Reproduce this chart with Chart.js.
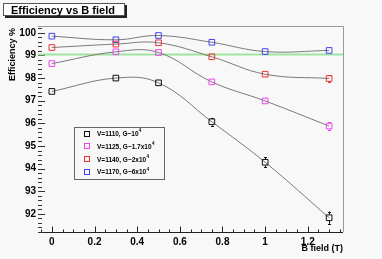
<!DOCTYPE html>
<html>
<head>
<meta charset="UTF-8">
<title>Efficiency vs B field</title>
<script src="https://cdn.jsdelivr.net/npm/chart.js@4/dist/chart.umd.min.js"></script>
<style>
  html, body { margin: 0; padding: 0; background: #f8f8f8; }
  canvas { display: block; }
</style>
</head>
<body>
<canvas id="canvas" width="382" height="259"></canvas>
<script>
// B field values (T)
const bField = [0, 0.3, 0.5, 0.75, 1, 1.3];

// efficiency (%) per HV setting
const eff1110 = [97.41, 98.00, 97.79, 96.07, 94.28, 91.83];
const eff1125 = [98.64, 99.16, 99.13, 97.83, 96.99, 95.88];
const eff1140 = [99.35, 99.50, 99.56, 98.94, 98.17, 97.98];
const eff1170 = [99.85, 99.69, 99.88, 99.58, 99.17, 99.22];

// errors
const err1110 = [0.05, 0.05, 0.05, 0.17, 0.22, 0.27];
const err1125 = [0.04, 0.04, 0.04, 0.06, 0.08, 0.16];
const err1140 = [0.03, 0.03, 0.03, 0.05, 0.06, 0.15];
const err1170 = [0.02, 0.02, 0.02, 0.03, 0.04, 0.05];

const seriesNames = ['V=1110, G~10', 'V=1125, G~1.7x10', 'V=1140, G~2x10', 'V=1170, G~6x10'];
const seriesExp = ['4', '4', '4', '4'];
const seriesColors = ['#111111', '#ee44ee', '#ee3333', '#4444ee'];

const greenLevel = 99.04;

const xTicks = [0, 0.2, 0.4, 0.6, 0.8, 1, 1.2];
const yTicks = [92, 93, 94, 95, 96, 97, 98, 99, 100];
const xMin = -0.065, xMax = 1.365;
const yMin = 91.2, yMax = 100.3;

const FONT = '"Liberation Sans", Arial, sans-serif';

function pts(vals) {
  return bField.map(function (b, i) { return { x: b, y: vals[i] }; });
}

const values = [eff1110, eff1125, eff1140, eff1170];
const errors = [err1110, err1125, err1140, err1170];

const datasets = [];
values.forEach(function (v, i) {
  datasets.push({
    label: seriesNames[i] + seriesExp[i],
    data: pts(v),
    errors: errors[i],
    borderColor: '#7a7a7a',
    borderWidth: 1,
    tension: 0.4,
    pointStyle: 'rect',
    pointRadius: 4,
    pointBorderWidth: 1,
    pointBorderColor: seriesColors[i],
    pointBackgroundColor: 'rgba(0,0,0,0)',
    order: 1
  });
});
datasets.push({
  label: 'level',
  data: [{ x: xMin, y: greenLevel }, { x: xMax, y: greenLevel }],
  borderColor: '#9ee39e',
  borderWidth: 2,
  pointRadius: 0,
  order: 2
});

const bgPlugin = {
  id: 'bg',
  beforeDraw(chart) {
    const c = chart.ctx;
    c.save();
    c.fillStyle = '#f8f8f8';
    c.fillRect(0, 0, chart.width, chart.height);
    c.restore();
  },
  beforeDatasetsDraw(chart) {
    const c = chart.ctx, a = chart.chartArea, x = chart.scales.x, y = chart.scales.y;
    c.save();
    c.lineWidth = 1;
    // frame
    c.strokeStyle = '#9a9a9a';
    c.beginPath();
    c.moveTo(a.left, Math.round(a.top) + 0.5);
    c.lineTo(Math.round(a.right) + 0.5, Math.round(a.top) + 0.5);
    c.lineTo(Math.round(a.right) + 0.5, a.bottom);
    c.stroke();
    // x axis
    c.strokeStyle = '#222';
    c.beginPath();
    const yb = Math.round(a.bottom) + 0.5;
    c.moveTo(a.left, yb);
    c.lineTo(a.right, yb);
    for (let i = -1; i <= 27; i++) {
      const v = i * 0.05;
      const px = Math.round(x.getPixelForValue(v)) + 0.5;
      const major = (i % 4 === 0);
      c.moveTo(px, yb);
      c.lineTo(px, yb - (major ? 6 : 3));
    }
    c.stroke();
    // y ticks
    c.strokeStyle = '#333';
    c.beginPath();
    for (let i = 0; i <= 45; i++) {
      const v = yMin + i * 0.2;
      if (v > yMax) break;
      const py = Math.round(y.getPixelForValue(v)) + 0.5;
      const major = Math.abs(v - Math.round(v)) < 1e-6;
      c.moveTo(a.left, py);
      c.lineTo(a.left + (major ? 7 : 4), py);
    }
    c.stroke();
    c.restore();
  },
  afterDatasetsDraw(chart) {
    const c = chart.ctx, x = chart.scales.x, y = chart.scales.y;
    c.save();
    c.lineWidth = 1;
    chart.data.datasets.forEach(function (ds, di) {
      if (!ds.errors) return;
      c.strokeStyle = seriesColors[di];
      ds.data.forEach(function (p, k) {
        const e = ds.errors[k];
        const px = Math.round(x.getPixelForValue(p.x)) + 0.5;
        const cy = y.getPixelForValue(p.y);
        const top = y.getPixelForValue(p.y + e);
        const bot = y.getPixelForValue(p.y - e);
        if (cy - top < 3.2) return;
        c.beginPath();
        c.moveTo(px, top); c.lineTo(px, cy - 3);
        c.moveTo(px, cy + 3); c.lineTo(px, bot);
        c.moveTo(px - 1.5, Math.round(top) + 0.5); c.lineTo(px + 1.5, Math.round(top) + 0.5);
        c.moveTo(px - 1.5, Math.round(bot) + 0.5); c.lineTo(px + 1.5, Math.round(bot) + 0.5);
        c.stroke();
      });
    });
    c.restore();
  },
  afterDraw(chart) {
    const c = chart.ctx, a = chart.chartArea;
    c.save();
    // title box with shadow
    c.fillStyle = '#222';
    c.fillRect(5, 5, 122, 13);
    c.fillStyle = '#fff';
    c.fillRect(3, 3, 122, 13);
    c.strokeStyle = '#555';
    c.strokeRect(3.5, 3.5, 121, 12);
    c.fillStyle = '#000';
    c.font = 'bold 11px ' + FONT;
    c.textBaseline = 'alphabetic';
    c.textAlign = 'left';
    c.fillText('Efficiency vs B field', 11, 13.5);

    // axis titles
    c.font = 'bold 9px ' + FONT;
    c.textAlign = 'right';
    c.fillText('B field (T)', a.right, 251);
    c.save();
    c.translate(15, a.top + 2);
    c.rotate(-Math.PI / 2);
    c.fillText('Efficiency %', 0, 0);
    c.restore();

    // legend
    c.fillStyle = '#f8f8f8';
    c.fillRect(74, 127, 90, 52);
    c.strokeStyle = '#666';
    c.strokeRect(74.5, 127.5, 90, 52);
    c.textAlign = 'left';
    c.textBaseline = 'middle';
    seriesNames.forEach(function (name, i) {
      const ry = 133.5 + i * 12.9;
      c.strokeStyle = seriesColors[i];
      c.strokeRect(84.5, Math.round(ry) - 2.5, 5, 5);
      c.fillStyle = '#000';
      c.font = 'bold 6.5px ' + FONT;
      c.fillText(name, 97, ry + 0.5);
      const w = c.measureText(name).width;
      c.font = 'bold 4.5px ' + FONT;
      c.fillText(seriesExp[i], 97 + w + 0.3, ry - 2.5);
    });
    c.restore();
  }
};

const ctx = document.getElementById('canvas').getContext('2d');
const chart = new Chart(ctx, {
  type: 'line',
  data: { datasets: datasets },
  options: {
    responsive: false,
    animation: false,
    devicePixelRatio: 1,
    layout: { padding: { left: 0, top: 26, right: 39, bottom: 0 } },
    plugins: {
      legend: { display: false },
      tooltip: { enabled: false },
      title: { display: false }
    },
    scales: {
      x: {
        type: 'linear',
        min: xMin,
        max: xMax,
        grid: { display: false, drawTicks: false },
        border: { display: false },
        afterBuildTicks: function (s) { s.ticks = xTicks.map(function (v) { return { value: v }; }); },
        afterFit: function (s) { s.height = 27; },
        ticks: {
          padding: 4,
          maxRotation: 0,
          color: '#000',
          font: { family: FONT, size: 10, weight: 'bold' },
          callback: function (v) { return String(Math.round(v * 10) / 10); }
        }
      },
      y: {
        type: 'linear',
        min: yMin,
        max: yMax,
        grid: { display: false, drawTicks: false },
        border: { display: false },
        afterBuildTicks: function (s) { s.ticks = yTicks.map(function (v) { return { value: v }; }); },
        afterFit: function (s) { s.width = 38; },
        ticks: {
          padding: 2,
          color: '#000',
          font: { family: FONT, size: 10, weight: 'bold' },
          callback: function (v) { return String(v); }
        }
      }
    }
  },
  plugins: [bgPlugin]
});
</script>
</body>
</html>
